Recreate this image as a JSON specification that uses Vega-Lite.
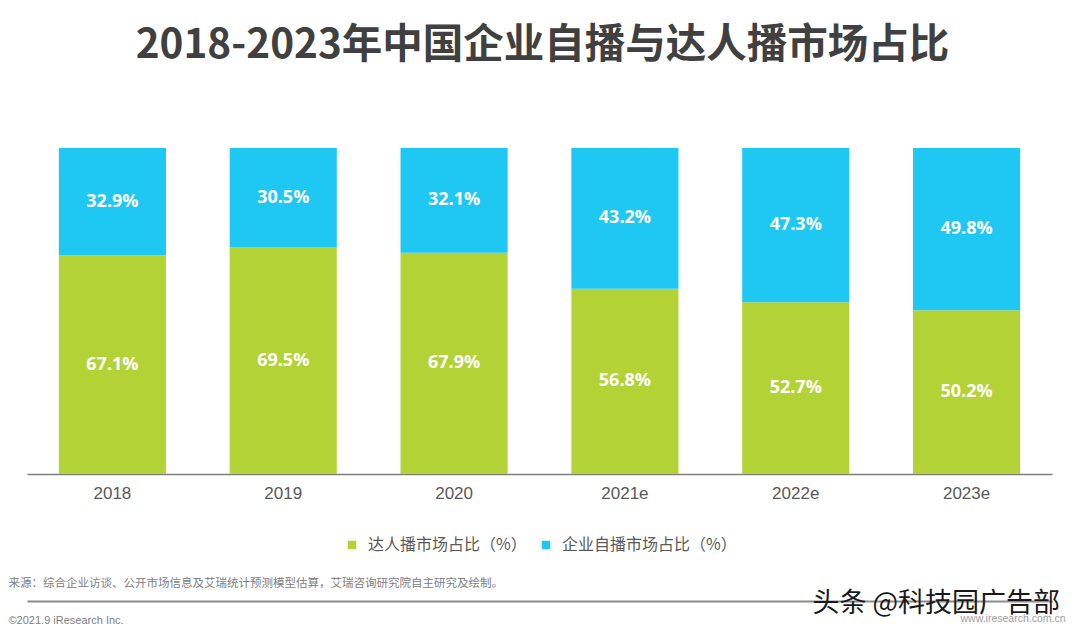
{
  "$schema": "https://vega.github.io/schema/vega-lite/v6.json",
  "width": 1025,
  "height": 326,
  "autosize": {"type": "none"},
  "padding": {"left": 27, "top": 148, "right": 28, "bottom": 164},
  "background": "#ffffff",
  "config": {"view": {"stroke": null}},
  "title": {
    "text": "2018-2023年中国企业自播与达人播市场占比",
    "font": "Noto Sans CJK SC",
    "fontSize": 40.5,
    "fontWeight": "bold",
    "color": "#404040",
    "anchor": "middle",
    "baseline": "alphabetic",
    "offset": 50,
    "dx": 3
  },
  "data": {
    "values": [
      {"year": "2018", "series": "达人播市场占比（%）", "share": 0.671},
      {"year": "2018", "series": "企业自播市场占比（%）", "share": 0.329},
      {"year": "2019", "series": "达人播市场占比（%）", "share": 0.695},
      {"year": "2019", "series": "企业自播市场占比（%）", "share": 0.305},
      {"year": "2020", "series": "达人播市场占比（%）", "share": 0.679},
      {"year": "2020", "series": "企业自播市场占比（%）", "share": 0.321},
      {"year": "2021e", "series": "达人播市场占比（%）", "share": 0.568},
      {"year": "2021e", "series": "企业自播市场占比（%）", "share": 0.432},
      {"year": "2022e", "series": "达人播市场占比（%）", "share": 0.527},
      {"year": "2022e", "series": "企业自播市场占比（%）", "share": 0.473},
      {"year": "2023e", "series": "达人播市场占比（%）", "share": 0.502},
      {"year": "2023e", "series": "企业自播市场占比（%）", "share": 0.498}
    ]
  },
  "transform": [
    {"stack": "share", "groupby": ["year"], "sort": [{"field": "series", "order": "descending"}], "as": ["y0", "y1"]},
    {"calculate": "(datum.y0 + datum.y1) / 2", "as": "mid"}
  ],
  "layer": [
    {
      "mark": {"type": "bar"},
      "encoding": {
        "x": {
          "field": "year",
          "type": "nominal",
          "sort": null,
          "scale": {"paddingInner": 0.373, "paddingOuter": 0.1865},
          "axis": {
            "title": "来源：综合企业访谈、公开市场信息及艾瑞统计预测模型估算，艾瑞咨询研究院自主研究及绘制。",
            "titleX": -19,
            "titleY": 109,
            "titleAlign": "left",
            "titleAnchor": null,
            "titleBaseline": "middle",
            "titleFont": "Noto Sans CJK SC",
            "titleFontSize": 11.5,
            "titleFontWeight": "normal",
            "titleColor": "#808080",
            "titleLimit": 1000,
            "labelAngle": 0,
            "labelFont": "Liberation Sans",
            "labelFontSize": 17,
            "labelColor": "#595959",
            "labelPadding": 11,
            "ticks": false,
            "domainColor": "#7f7f7f",
            "domainWidth": 1.5,
            "grid": false
          }
        },
        "y": {
          "field": "y1",
          "type": "quantitative",
          "scale": {"domain": [0, 1]},
          "axis": {
            "title": "©2021.9 iResearch Inc.",
            "titleAngle": 0,
            "titleX": -19,
            "titleY": 472,
            "titleAlign": "left",
            "titleAnchor": null,
            "titleBaseline": "middle",
            "titleFont": "Liberation Sans",
            "titleFontSize": 11,
            "titleFontWeight": "normal",
            "titleColor": "#808080",
            "labels": false,
            "ticks": false,
            "domain": false,
            "grid": false
          }
        },
        "y2": {"field": "y0"},
        "color": {
          "field": "series",
          "type": "nominal",
          "scale": {
            "domain": ["达人播市场占比（%）", "企业自播市场占比（%）"],
            "range": ["#b3d236", "#1fc8f3"]
          },
          "legend": {
            "title": null,
            "orient": "none",
            "direction": "horizontal",
            "legendX": 317,
            "legendY": 389,
            "padding": 0,
            "symbolType": "square",
            "symbolSize": 72,
            "symbolStrokeWidth": 0,
            "labelFont": "Noto Sans CJK SC",
            "labelFontSize": 16,
            "labelColor": "#595959",
            "labelOffset": 8,
            "labelLimit": 400,
            "columnPadding": 11
          }
        }
      }
    },
    {
      "mark": {"type": "text", "color": "#ffffff", "font": "Open Sans", "fontWeight": "bold", "fontSize": 18, "baseline": "middle", "align": "center"},
      "encoding": {
        "x": {
          "field": "year",
          "type": "nominal",
          "sort": null,
          "scale": {"paddingInner": 0.373, "paddingOuter": 0.1865},
          "axis": {
            "orient": "bottom",
            "offset": 127,
            "labels": false,
            "ticks": false,
            "grid": false,
            "domain": true,
            "domainColor": "#8c8c8c",
            "domainWidth": 2,
            "title": "www.iresearch.com.cn",
            "titleX": 1038,
            "titleY": 17,
            "titleAlign": "right",
            "titleAnchor": null,
            "titleBaseline": "middle",
            "titleFont": "Liberation Sans",
            "titleFontSize": 10.5,
            "titleFontWeight": "normal",
            "titleColor": "#a0a0a0"
          }
        },
        "y": {
          "field": "mid",
          "type": "quantitative",
          "scale": {"domain": [0, 1]},
          "axis": {
            "orient": "right",
            "title": "头条 @科技园广告部",
            "titleAngle": 0,
            "titleX": -240,
            "titleY": 455,
            "titleAlign": "left",
            "titleAnchor": null,
            "titleBaseline": "middle",
            "titleFont": "Noto Sans CJK SC",
            "titleFontSize": 27,
            "titleFontWeight": "normal",
            "titleColor": "#1a1a1a",
            "titleLimit": 400,
            "labels": false,
            "ticks": false,
            "domain": false,
            "grid": false
          }
        },
        "text": {"field": "share", "type": "quantitative", "format": ".1%"}
      }
    }
  ],
  "resolve": {"scale": {"x": "independent", "y": "independent"}, "axis": {"x": "independent", "y": "independent"}}
}
